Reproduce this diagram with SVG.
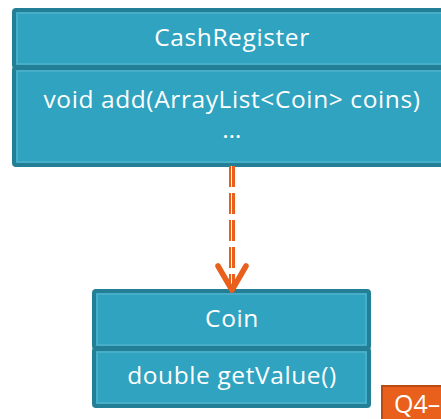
<svg xmlns="http://www.w3.org/2000/svg" width="441" height="419" viewBox="0 0 441 419">
<style>
.box{fill:#2fa3c0;stroke:#237f96;stroke-width:4}
.inner{fill:none;stroke:#5fb9d0;stroke-width:1}
.t{font-family:"Open Sans","DejaVu Sans",sans-serif;font-size:24.5px;letter-spacing:0.6px;fill:#ffffff;text-anchor:middle}
</style>
<rect width="441" height="419" fill="#ffffff"/>
<g id="CashRegister">
<rect class="box" x="14" y="10" width="440" height="57" rx="2"/>
<rect class="inner" x="17" y="13" width="434" height="51"/>
<rect class="box" x="14" y="68" width="440" height="97" rx="2"/>
<rect class="inner" x="17" y="71" width="434" height="91"/>
<text class="t" x="232" y="46">CashRegister</text>
<text class="t" x="232" y="108">void add(ArrayList&lt;Coin&gt; coins)</text>
<text class="t" x="232" y="138">…</text>
</g>
<g id="Coin">
<rect class="box" x="94" y="291" width="275" height="57" rx="2"/>
<rect class="inner" x="97" y="294" width="269" height="51"/>
<rect class="box" x="94" y="349" width="275" height="57" rx="2"/>
<rect class="inner" x="97" y="352" width="269" height="51"/>
<text class="t" x="232" y="327">Coin</text>
<text class="t" x="232" y="384">double getValue()</text>
</g>
<g id="connectors">
<line x1="232" y1="166" x2="232" y2="287" stroke="#e8601c" stroke-width="6" stroke-dasharray="21,6"/>
<line x1="231.5" y1="166" x2="231.5" y2="287" stroke="#ffffff" stroke-width="1" stroke-dasharray="21,6"/>
<polyline points="218,266 232,290 246,266" fill="none" stroke="#e8601c" stroke-width="5.5" stroke-linecap="round" stroke-linejoin="round"/>
</g>
<g id="Q4">
<rect x="382" y="386" width="70" height="40" fill="#e8601c" stroke="#b84a12" stroke-width="2"/>
<text x="394" y="413" font-family="Open Sans, DejaVu Sans, sans-serif" font-size="25" fill="#ffffff">Q4–</text>
</g>
</svg>
